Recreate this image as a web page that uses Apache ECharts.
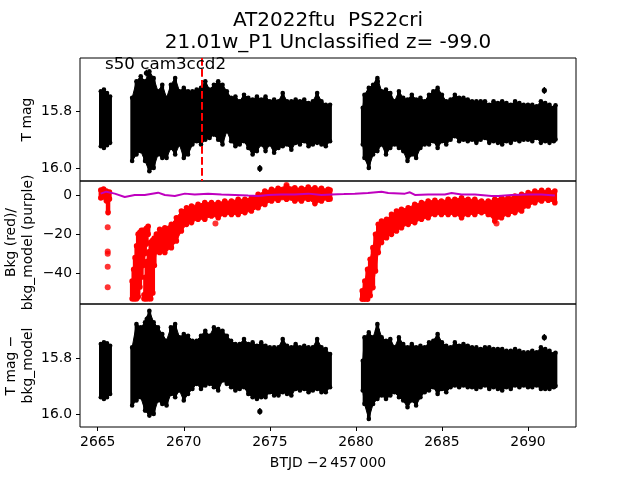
<!DOCTYPE html>
<html>
<head>
<meta charset="utf-8">
<script src="https://cdn.jsdelivr.net/npm/echarts/dist/echarts.min.js"></script>
<style>
  html, body { margin: 0; padding: 0; background: #fff; }
  #lc { width: 640px; height: 480px; }
</style>
</head>
<body>
<div id="lc"></div>
<script>
// light curve of AT2022ftu, TESS s50 cam3ccd2
const chart = echarts.init(document.getElementById('lc'));

const FONT = 'DejaVu Sans';
const titleLines = ['AT2022ftu  PS22cri', '21.01w_P1 Unclassified z= -99.0'];
const sectorLabel = 's50 cam3ccd2';
const xName = 'BTJD \u22122\u2009457\u2009000';

const xTicks = [2665, 2670, 2675, 2680, 2685, 2690];
const magTicks = [15.8, 16.0];
const bkgTicks = [-40, -20, 0];
const eventTime = 2671.02; // red dashed line

// T mag: [BTJD, brightest edge, faintest edge] of the errorbar cloud
const tmagBand = [
  [2665.18, 15.731, 15.924], [2665.36, 15.725, 15.930], [2665.54, 15.737, 15.920], [2665.72, 15.749, 15.912],
  [2667.0, 15.754, 15.976], [2667.25, 15.696, 15.953], [2667.5, 15.678, 15.941], [2667.75, 15.696, 15.976],
  [2668.0, 15.661, 16.012], [2668.25, 15.684, 16.000], [2668.5, 15.731, 15.953], [2668.75, 15.708, 15.965],
  [2669.0, 15.754, 15.965], [2669.25, 15.708, 15.930], [2669.5, 15.684, 15.953], [2669.75, 15.731, 15.918],
  [2670.0, 15.719, 15.965], [2670.25, 15.731, 15.953], [2670.5, 15.731, 15.918], [2670.75, 15.725, 15.906],
  [2671.0, 15.719, 15.918], [2671.25, 15.696, 15.901], [2671.5, 15.725, 15.895], [2671.75, 15.708, 15.883],
  [2672.0, 15.696, 15.901], [2672.25, 15.708, 15.918], [2672.5, 15.731, 15.871], [2672.75, 15.754, 15.906],
  [2673.0, 15.749, 15.924], [2673.25, 15.766, 15.918], [2673.5, 15.743, 15.906], [2673.75, 15.754, 15.930],
  [2674.0, 15.760, 15.953], [2674.25, 15.749, 15.941], [2674.5, 15.760, 15.918], [2674.75, 15.749, 15.941],
  [2675.0, 15.766, 15.918], [2675.25, 15.760, 15.947], [2675.5, 15.766, 15.930], [2675.75, 15.737, 15.924],
  [2676.0, 15.766, 15.918], [2676.25, 15.766, 15.936], [2676.5, 15.760, 15.912], [2676.75, 15.766, 15.918],
  [2677.0, 15.760, 15.906], [2677.25, 15.772, 15.924], [2677.5, 15.766, 15.918], [2677.75, 15.737, 15.912],
  [2678.0, 15.766, 15.918], [2678.25, 15.778, 15.924], [2678.5, 15.778, 15.906],
  [2680.4, 15.789, 15.918], [2680.5, 15.743, 15.965], [2680.75, 15.719, 16.000], [2681.0, 15.708, 15.953],
  [2681.25, 15.684, 15.941], [2681.5, 15.731, 15.918], [2681.75, 15.725, 15.953], [2682.0, 15.737, 15.930],
  [2682.25, 15.766, 15.918], [2682.5, 15.731, 15.930], [2682.75, 15.754, 15.941], [2683.0, 15.760, 15.976],
  [2683.25, 15.743, 15.953], [2683.5, 15.760, 15.965], [2683.75, 15.754, 15.930], [2684.0, 15.766, 15.918],
  [2684.25, 15.743, 15.918], [2684.5, 15.731, 15.906], [2684.75, 15.719, 15.930], [2685.0, 15.743, 15.906],
  [2685.25, 15.766, 15.918], [2685.5, 15.760, 15.901], [2685.75, 15.743, 15.889], [2686.0, 15.754, 15.906],
  [2686.25, 15.754, 15.901], [2686.5, 15.760, 15.906], [2686.75, 15.766, 15.901], [2687.0, 15.766, 15.912],
  [2687.25, 15.766, 15.901], [2687.5, 15.766, 15.895], [2687.75, 15.778, 15.912], [2688.0, 15.766, 15.906],
  [2688.25, 15.772, 15.912], [2688.5, 15.766, 15.918], [2688.75, 15.772, 15.906], [2689.0, 15.778, 15.912],
  [2689.25, 15.766, 15.901], [2689.5, 15.772, 15.906], [2689.75, 15.778, 15.901], [2690.0, 15.778, 15.901],
  [2690.25, 15.778, 15.906], [2690.5, 15.784, 15.895], [2690.75, 15.766, 15.912], [2691.0, 15.772, 15.906],
  [2691.25, 15.778, 15.912], [2691.5, 15.789, 15.906], [2691.6, 15.780, 15.900]
];
// single points sticking out: [BTJD, mag, err]
const tmagOutliers = [[2667.83, 15.667, 0.012], [2674.42, 16.002, 0.012], [2681.25, 15.696, 0.012], [2690.95, 15.728, 0.012]];

// T mag - bkg_model
const corrBand = [
  [2665.18, 15.749, 15.940], [2665.36, 15.743, 15.946], [2665.54, 15.746, 15.940], [2665.72, 15.755, 15.928],
  [2667.0, 15.761, 15.970], [2667.25, 15.677, 15.952], [2667.5, 15.689, 15.940], [2667.75, 15.671, 15.988],
  [2668.0, 15.629, 16.006], [2668.25, 15.671, 16.000], [2668.5, 15.689, 15.952], [2668.75, 15.713, 15.964],
  [2669.0, 15.737, 15.970], [2669.25, 15.689, 15.928], [2669.5, 15.677, 15.940], [2669.75, 15.725, 15.916],
  [2670.0, 15.713, 15.952], [2670.25, 15.719, 15.928], [2670.5, 15.737, 15.910], [2670.75, 15.737, 15.892],
  [2671.0, 15.719, 15.910], [2671.25, 15.701, 15.898], [2671.5, 15.719, 15.892], [2671.75, 15.689, 15.904],
  [2672.0, 15.695, 15.916], [2672.25, 15.701, 15.880], [2672.5, 15.719, 15.892], [2672.75, 15.737, 15.904],
  [2673.0, 15.749, 15.916], [2673.25, 15.749, 15.910], [2673.5, 15.731, 15.904], [2673.75, 15.749, 15.928],
  [2674.0, 15.743, 15.940], [2674.25, 15.755, 15.946], [2674.5, 15.743, 15.940], [2674.75, 15.755, 15.940],
  [2675.0, 15.761, 15.922], [2675.25, 15.761, 15.934], [2675.5, 15.761, 15.934], [2675.75, 15.731, 15.922],
  [2676.0, 15.755, 15.928], [2676.25, 15.761, 15.934], [2676.5, 15.749, 15.910], [2676.75, 15.761, 15.916],
  [2677.0, 15.755, 15.910], [2677.25, 15.761, 15.922], [2677.5, 15.761, 15.916], [2677.75, 15.731, 15.910],
  [2678.0, 15.761, 15.922], [2678.25, 15.767, 15.922], [2678.5, 15.785, 15.904],
  [2680.4, 15.809, 15.916], [2680.5, 15.725, 15.964], [2680.75, 15.707, 16.018], [2681.0, 15.725, 15.964],
  [2681.25, 15.677, 15.946], [2681.5, 15.725, 15.934], [2681.75, 15.737, 15.946], [2682.0, 15.731, 15.934],
  [2682.25, 15.761, 15.922], [2682.5, 15.725, 15.940], [2682.75, 15.749, 15.952], [2683.0, 15.761, 15.976],
  [2683.25, 15.749, 15.952], [2683.5, 15.761, 15.970], [2683.75, 15.755, 15.940], [2684.0, 15.761, 15.922],
  [2684.25, 15.743, 15.916], [2684.5, 15.737, 15.904], [2684.75, 15.713, 15.928], [2685.0, 15.743, 15.910],
  [2685.25, 15.755, 15.922], [2685.5, 15.761, 15.904], [2685.75, 15.743, 15.898], [2686.0, 15.755, 15.904],
  [2686.25, 15.749, 15.898], [2686.5, 15.755, 15.904], [2686.75, 15.761, 15.904], [2687.0, 15.761, 15.910],
  [2687.25, 15.767, 15.904], [2687.5, 15.761, 15.898], [2687.75, 15.761, 15.910], [2688.0, 15.767, 15.904],
  [2688.25, 15.767, 15.910], [2688.5, 15.767, 15.916], [2688.75, 15.773, 15.904], [2689.0, 15.773, 15.910],
  [2689.25, 15.767, 15.898], [2689.5, 15.773, 15.904], [2689.75, 15.779, 15.898], [2690.0, 15.779, 15.904],
  [2690.25, 15.773, 15.904], [2690.5, 15.779, 15.898], [2690.75, 15.761, 15.910], [2691.0, 15.767, 15.910],
  [2691.25, 15.773, 15.910], [2691.5, 15.785, 15.904], [2691.6, 15.780, 15.900]
];
const corrOutliers = [[2667.87, 15.659, 0.012], [2674.42, 15.991, 0.012], [2681.25, 15.701, 0.012], [2690.95, 15.725, 0.012]];

// Bkg (red): [BTJD, upper edge, lower edge]
const bkgStart = [[2665.18, 2.5, -1.5], [2665.34, 3.0, -1.0], [2665.5, 2.0, -3.0], [2665.6, 0.5, -9.0], [2665.68, 1.5, -2.0]];
const bkgDrop = [[2665.58, -16.5], [2665.58, -28.8], [2665.58, -30.0], [2665.58, -36.6], [2665.58, -47.1]];
const bkgRise1 = [
  [2667.0, -44, -53], [2667.09, -38, -53], [2667.17, -32, -53], [2667.26, -26, -53], [2667.35, -20, -52],
  [2667.45, -19, -47], [2667.54, -18, -42], [2667.64, -18, -36], [2667.73, -18, -30], [2667.83, -17, -25],
  [2667.93, -16, -20]
];
const bkgRise2 = [
  [2667.69, -51, -53], [2667.77, -42, -53], [2667.85, -34, -53], [2667.97, -29, -53], [2668.08, -24, -53],
  [2668.2, -23, -50], [2668.29, -22, -36], [2668.41, -20, -29], [2668.6, -17.5, -29.4], [2668.9, -16.7, -29.4],
  [2669.28, -15, -26.9], [2669.57, -11.6, -23.5], [2669.86, -8.2, -18.4], [2670.16, -6.5, -15],
  [2670.45, -5.6, -14.1], [2670.83, -4.8, -12.4], [2671.22, -3.9, -12.4], [2671.61, -3.9, -10.7],
  [2672.0, -3.9, -11.6], [2672.38, -3.1, -9.9], [2672.77, -3.1, -9.9], [2673.16, -2.2, -9.9],
  [2673.55, -2.2, -9.0], [2673.93, -1.4, -8.2], [2674.32, 0.3, -6.5], [2674.71, 2.0, -4.8],
  [2675.1, 2.9, -3.1], [2675.48, 3.4, -2.7], [2675.97, 4.6, -2.2], [2676.45, 3.7, -3.1],
  [2676.84, 3.4, -3.1], [2677.23, 4.1, -2.2], [2677.62, 3.7, -4.4], [2678.0, 3.4, -3.1],
  [2678.39, 2.9, -2.2], [2678.5, 2.5, -2.0]
];
const bkgRise3 = [
  [2680.37, -49, -53.2], [2680.52, -43.9, -53.2], [2680.68, -38, -53.2], [2680.83, -32.8, -51.5],
  [2680.99, -26.9, -47.3], [2681.14, -20.1, -38.8], [2681.3, -15, -29.4], [2681.49, -13.3, -24.3],
  [2681.78, -12.4, -21.8], [2682.07, -9.9, -20.1], [2682.36, -8.2, -18.4], [2682.65, -7.3, -16.7],
  [2683.04, -6.5, -15], [2683.42, -4.8, -14.1], [2683.81, -3.9, -12.4], [2684.2, -3.1, -11.6],
  [2684.59, -2.7, -9.9], [2684.97, -3.1, -9.9], [2685.36, -2.2, -9.9], [2685.75, -2.2, -9.9],
  [2686.14, -1.4, -11.6], [2686.52, -2.2, -9.9], [2686.91, -2.2, -9.9], [2687.3, -3.1, -9.0],
  [2687.69, -3.1, -9.9], [2688.07, -2.2, -13.3], [2688.46, -1.4, -11.6], [2688.85, -1.4, -9.9],
  [2689.24, -0.5, -9.0], [2689.63, 0.3, -8.2], [2690.01, 1.2, -5.6], [2690.4, 2.0, -3.9],
  [2690.79, 2.4, -3.1], [2691.18, 2.4, -2.7], [2691.56, 2.0, -3.9]
];
const bkgStray = [[2671.84, -14.6], [2688.17, -14.6], [2675.97, 5.1]];

// bkg_model (purple)
const modelTime = [2665.17, 2665.5, 2665.99, 2666.57, 2667.15, 2667.73, 2668.51, 2668.9, 2669.48, 2670.06,
  2670.64, 2671.41, 2672.19, 2672.97, 2673.74, 2674.32, 2674.9, 2675.68, 2676.45, 2677.23, 2678.0, 2678.59,
  2679.3, 2679.94, 2680.7, 2681.49, 2681.88, 2682.85, 2683.14, 2683.43, 2684.2, 2685.17, 2685.56, 2686.14,
  2686.92, 2687.89, 2688.27, 2689.05, 2690.02, 2690.79, 2691.56];
const modelValue = [0.7, 1.7, 0.7, -1.0, 0, 0, 1.2, 0, -0.5, 0.7,
  0.3, 0.7, 0.3, 0, -0.3, -0.5, 0, 0.3, 0.3, 0.7, 0, 0.3,
  0.5, 0.7, 1.0, 1.7, 1.0, 0.7, 1.4, 0, 0.3, 0.3, 1.0, 0.3,
  0.3, -0.5, -0.5, 0, 0.3, 0.3, -0.3];

// 画点云：相邻两个时间点之间填充，边上加圆点
function bandRender(arr, color, r) {
  return function (params, api) {
    const i = params.dataIndex;
    const d = arr[i];
    const p0 = api.coord([d[0], d[1]]);
    const q0 = api.coord([d[0], d[2]]);
    const children = [];
    const n = arr[i + 1];
    if (n && n[0] > d[0] && n[0] - d[0] < 0.6) {
      const p1 = api.coord([n[0], n[1]]);
      const q1 = api.coord([n[0], n[2]]);
      children.push({ type: 'polygon', shape: { points: [p0, p1, q1, q0] }, style: { fill: color, stroke: color, lineWidth: 1 } });
    }
    children.push({ type: 'line', shape: { x1: p0[0], y1: p0[1], x2: q0[0], y2: q0[1] }, style: { stroke: color, lineWidth: r * 1.6 } });
    children.push({ type: 'circle', shape: { cx: p0[0], cy: p0[1], r: r }, style: { fill: color } });
    children.push({ type: 'circle', shape: { cx: q0[0], cy: q0[1], r: r }, style: { fill: color } });
    return { type: 'group', children: children };
  };
}

function bandSeries(arr, color, r, axis) {
  return {
    type: 'custom',
    xAxisIndex: axis, yAxisIndex: axis,
    data: arr,
    encode: { x: 0, y: [1, 2] },
    renderItem: bandRender(arr, color, r),
    clip: true,
    silent: true
  };
}

function errSeries(arr, axis) {
  return {
    type: 'custom',
    xAxisIndex: axis, yAxisIndex: axis,
    data: arr,
    encode: { x: 0, y: 1 },
    clip: true,
    silent: true,
    renderItem: function (params, api) {
      const t = api.value(0), m = api.value(1), e = api.value(2);
      const c = api.coord([t, m]);
      const a = api.coord([t, m - e]);
      const b = api.coord([t, m + e]);
      return {
        type: 'group', children: [
          { type: 'line', shape: { x1: a[0], y1: a[1], x2: b[0], y2: b[1] }, style: { stroke: '#000', lineWidth: 1.5 } },
          { type: 'circle', shape: { cx: c[0], cy: c[1], r: 2.6 }, style: { fill: '#000' } }
        ]
      };
    }
  };
}

const gridTops = [58, 181, 304];
const grids = gridTops.map(function (top) {
  return { left: 80, width: 496, top: top, height: 123, show: true, borderColor: '#000', borderWidth: 1, backgroundColor: 'transparent' };
});

function xAxisFor(i) {
  const last = i === 2;
  return {
    type: 'value', gridIndex: i, min: 2663.97, max: 2692.79,
    axisLine: { show: false },
    splitLine: { show: false },
    axisTick: { show: last, customValues: xTicks, length: 4, lineStyle: { color: '#000' } },
    axisLabel: {
      show: last, customValues: xTicks, margin: 8, color: '#000', fontFamily: FONT, fontSize: 13.9,
      formatter: function (v) { return String(v); }
    }
  };
}

function yAxisFor(i, min, max, ticks, inverse, fontSize) {
  return {
    type: 'value', gridIndex: i, min: min, max: max, inverse: inverse,
    axisLine: { show: false },
    splitLine: { show: false },
    axisTick: { show: true, customValues: ticks, length: 4, lineStyle: { color: '#000' } },
    axisLabel: {
      customValues: ticks, margin: 8, color: '#000', fontFamily: FONT, fontSize: fontSize,
      formatter: function (v) {
        const s = inverse ? v.toFixed(1) : String(Math.round(v));
        return s.replace('-', '\u2212');
      }
    }
  };
}

function txt(x, y, text, size, rot, align) {
  return {
    type: 'text', x: x, y: y, rotation: rot || 0, z: 100,
    style: { text: text, fill: '#000', font: size + 'px "' + FONT + '"', textAlign: align || 'center', textVerticalAlign: 'middle' }
  };
}

var option = {
  animation: false,
  backgroundColor: '#fff',
  grid: grids,
  xAxis: [xAxisFor(0), xAxisFor(1), xAxisFor(2)],
  yAxis: [
    yAxisFor(0, 15.614, 16.046, magTicks, true, 13.9),
    yAxisFor(1, -55.68, 7.15, bkgTicks, false, 13.9),
    yAxisFor(2, 15.605, 16.047, magTicks, true, 13.9)
  ],
  series: [
    bandSeries(tmagBand, '#000', 2.3, 0),
    errSeries(tmagOutliers, 0),
    {
      type: 'line', xAxisIndex: 0, yAxisIndex: 0, data: [], silent: true,
      markLine: {
        silent: true, symbol: 'none', label: { show: false },
        lineStyle: { color: '#ff0000', width: 2, type: [7.7, 3.3] },
        data: [{ xAxis: eventTime }]
      }
    },
    bandSeries(bkgStart, '#ff0000', 2.8, 1),
    bandSeries(bkgRise1, '#ff0000', 2.8, 1),
    bandSeries(bkgRise2, '#ff0000', 2.8, 1),
    bandSeries(bkgRise3, '#ff0000', 2.8, 1),
    {
      type: 'scatter', xAxisIndex: 1, yAxisIndex: 1, silent: true,
      data: bkgDrop.concat(bkgStray), symbolSize: 6, itemStyle: { color: '#ff0000' }
    },
    {
      type: 'line', xAxisIndex: 1, yAxisIndex: 1, silent: true, z: 5,
      data: modelTime.map(function (t, i) { return [t, modelValue[i]]; }),
      showSymbol: false, lineStyle: { color: '#bf00bf', width: 2 }
    },
    bandSeries(corrBand, '#000', 2.3, 2),
    errSeries(corrOutliers, 2)
  ],
  graphic: [
    txt(328, 21, titleLines[0], 20),
    txt(328, 43, titleLines[1], 20),
    txt(105, 65, sectorLabel, 16.7, 0, 'left'),
    txt(328, 463, xName, 13.9),
    txt(27, 119.5, 'T mag', 13.9, Math.PI / 2),
    txt(11.5, 242.5, 'Bkg (red)/', 13.9, Math.PI / 2),
    txt(28, 242.5, 'bkg_model (purple)', 13.9, Math.PI / 2),
    txt(11.5, 365.5, 'T mag \u2212', 13.9, Math.PI / 2),
    txt(28, 365.5, 'bkg_model', 13.9, Math.PI / 2)
  ]
};

chart.setOption(option);
</script>
</body>
</html>
